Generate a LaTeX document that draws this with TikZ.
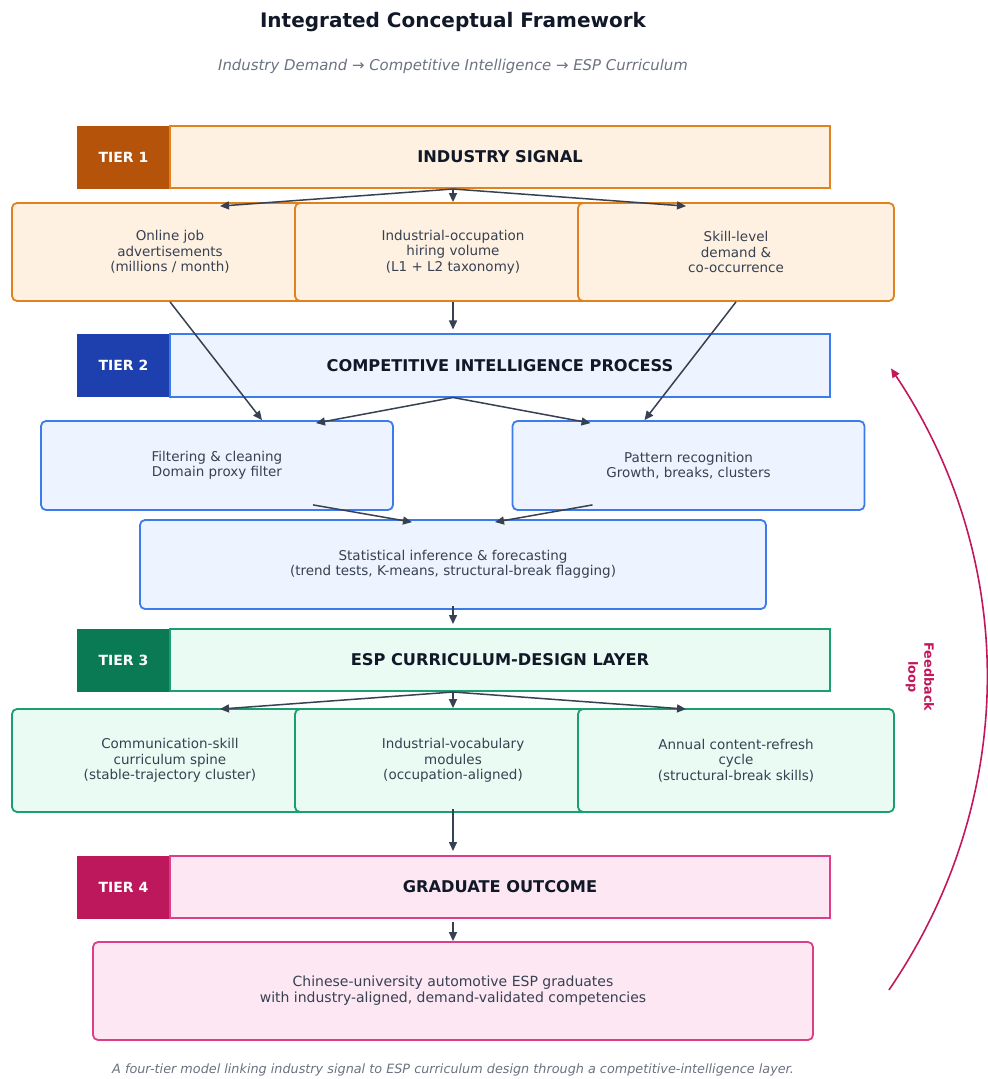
\documentclass[tikz,border=0pt]{standalone}
\usepackage{fontspec}
\setmainfont{DejaVu Sans}
\usetikzlibrary{arrows.meta,calc}

\definecolor{ink}{HTML}{111827}
\definecolor{body}{HTML}{374151}
\definecolor{muted}{HTML}{6B7280}
\definecolor{arrowc}{HTML}{374151}
\definecolor{tonedark}{HTML}{B45309}
\definecolor{oneline}{HTML}{E0821E}
\definecolor{onefill}{HTML}{FEF1E2}
\definecolor{twodark}{HTML}{1E40AF}
\definecolor{twoline}{HTML}{3B7BEB}
\definecolor{twofill}{HTML}{EEF4FF}
\definecolor{threedark}{HTML}{0A7A55}
\definecolor{threeline}{HTML}{1B9E72}
\definecolor{threefill}{HTML}{EAFBF3}
\definecolor{fourdark}{HTML}{BE185D}
\definecolor{fourline}{HTML}{DE3D8A}
\definecolor{fourfill}{HTML}{FCE7F3}
\definecolor{fbcol}{HTML}{C2185B}

\tikzset{
  lab/.style={fill=#1,draw=#1,text=white,font=\fontsize{7}{8}\selectfont\bfseries,
    minimum width=46.5pt,minimum height=31pt,inner sep=0pt},
  hdr/.style 2 args={draw=#1,fill=#2,line width=1pt,text=ink,
    font=\fontsize{8.1}{9.5}\selectfont\bfseries,
    minimum width=330pt,minimum height=31pt,inner sep=0pt},
  subbox/.style 2 args={draw=#1,fill=#2,line width=0.9pt,rounded corners=2.5pt,
    text=body,font=\fontsize{6.75}{7.75}\selectfont,align=center,
    minimum width=158pt,minimum height=49pt,inner sep=0pt},
  arr/.style={draw=arrowc,line width=0.75pt,-{Triangle[length=4.5pt,width=4pt]}},
  fb/.style={draw=fbcol,line width=0.8pt,-{Triangle[length=4.5pt,width=4pt]}},
}

\begin{document}
\begin{tikzpicture}[x=0.5pt,y=0.5pt]
  \useasboundingbox (0,0) rectangle (987,-1079);

  % Title
  \node[font=\fontsize{10}{12}\selectfont\bfseries,text=ink] (title) at (453,-22) {Integrated Conceptual Framework};
  \node[font=\fontsize{7.45}{9}\selectfont\itshape,text=muted] (subtitle) at (453,-66) {Industry Demand → Competitive Intelligence → ESP Curriculum};

  % Tier 1
  \node[lab=tonedark] (t1lab) at (123.5,-157) {TIER 1};
  \node[hdr={oneline}{onefill}] (t1) at (500,-157) {INDUSTRY SIGNAL};
  \node[subbox={oneline}{onefill}] (a1) at (170,-252) {Online job\\advertisements\\(millions / month)};
  \node[subbox={oneline}{onefill}] (b1) at (453,-252) {Industrial-occupation\\hiring volume\\(L1 + L2 taxonomy)};
  \node[subbox={oneline}{onefill}] (c1) at (736,-252) {Skill-level\\demand \&\\co-occurrence};
  \coordinate (t1s) at (b1.north |- t1.south);

  % Tier 2
  \node[lab=twodark] (t2lab) at (123.5,-365.5) {TIER 2};
  \node[hdr={twoline}{twofill}] (t2) at (500,-365.5) {COMPETITIVE INTELLIGENCE PROCESS};
  \node[subbox={twoline}{twofill},minimum width=176pt,minimum height=44.5pt] (filt) at (217,-465.5) {Filtering \& cleaning\\Domain proxy filter};
  \node[subbox={twoline}{twofill},minimum width=176pt,minimum height=44.5pt] (patt) at (688.5,-465.5) {Pattern recognition\\Growth, breaks, clusters};
  \node[subbox={twoline}{twofill},minimum width=313pt,minimum height=44.5pt] (stat) at (453,-564.5) {Statistical inference \& forecasting\\(trend tests, K-means, structural-break flagging)};
  \coordinate (t2n) at (b1.south |- t2.north);
  \coordinate (t2s) at (b1.south |- t2.south);

  % Tier 3
  \node[lab=threedark] (t3lab) at (123.5,-660) {TIER 3};
  \node[hdr={threeline}{threefill}] (t3) at (500,-660) {ESP CURRICULUM-DESIGN LAYER};
  \node[subbox={threeline}{threefill},minimum height=51.5pt] (a3) at (170,-760.5) {Communication-skill\\curriculum spine\\(stable-trajectory cluster)};
  \node[subbox={threeline}{threefill},minimum height=51.5pt] (b3) at (453,-760.5) {Industrial-vocabulary\\modules\\(occupation-aligned)};
  \node[subbox={threeline}{threefill},minimum height=51.5pt] (c3) at (736,-760.5) {Annual content-refresh\\cycle\\(structural-break skills)};
  \coordinate (t3n) at (stat.south |- t3.north);
  \coordinate (t3s) at (b3.north |- t3.south);

  % Tier 4
  \node[lab=fourdark] (t4lab) at (123.5,-887) {TIER 4};
  \node[hdr={fourline}{fourfill}] (t4) at (500,-887) {GRADUATE OUTCOME};
  \node[subbox={fourline}{fourfill},minimum width=360pt,font=\fontsize{7}{8}\selectfont] (grad) at (453,-991) {Chinese-university automotive ESP graduates\\with industry-aligned, demand-validated competencies};
  \coordinate (t4n) at (b3.south |- t4.north);
  \coordinate (t4s) at (grad.north |- t4.south);

  % Arrows
  \draw[arr] (t1s) -- ($(a1.north)+(50,-4)$);
  \draw[arr] (t1s) -- (b1.north);
  \draw[arr] (t1s) -- ($(c1.north)+(-50,-4)$);
  \draw[arr] (a1.south) -- ($(filt.north)+(45,0)$);
  \draw[arr,shorten >=2pt] (b1.south) -- (t2n);
  \draw[arr] (c1.south) -- ($(patt.north)+(-44,0)$);
  \draw[arr] (t2s) -- ($(filt.north)+(99,-3)$);
  \draw[arr] (t2s) -- ($(patt.north)+(-98,-3)$);
  \draw[arr] ($(filt.south)+(96,6)$) -- ($(stat.north)+(-41,-3)$);
  \draw[arr] ($(patt.south)+(-96,6)$) -- ($(stat.north)+(42,-3)$);
  \draw[arr,shorten <=-2pt,shorten >=2pt] (stat.south) -- (t3n);
  \draw[arr] (t3s) -- ($(a3.north)+(50,-1)$);
  \draw[arr] (t3s) -- (b3.north);
  \draw[arr] (t3s) -- ($(c3.north)+(-50,-1)$);
  \draw[arr,shorten <=-2pt,shorten >=2pt] (b3.south) -- (t4n);
  \draw[arr,shorten <=1.5pt] (t4s) -- (grad.north);

  % Feedback loop
  \coordinate (fbs) at ($(grad.east)+(75,1)$);
  \coordinate (fbe) at ($(t2.east)+(60,-3)$);
  \draw[fb] (fbs) .. controls (1019,-800) and (1019,-560) .. (fbe);
  \node[rotate=-90,align=center,text=fbcol,font=\fontsize{6.4}{8}\selectfont\bfseries] (fbl) at (920,-677) {Feedback\\loop};

  % Caption
  \node[font=\fontsize{6.4}{8}\selectfont\itshape,text=muted] (caption) at (453,-1070) {A four-tier model linking industry signal to ESP curriculum design through a competitive-intelligence layer.};
\end{tikzpicture}
\end{document}
